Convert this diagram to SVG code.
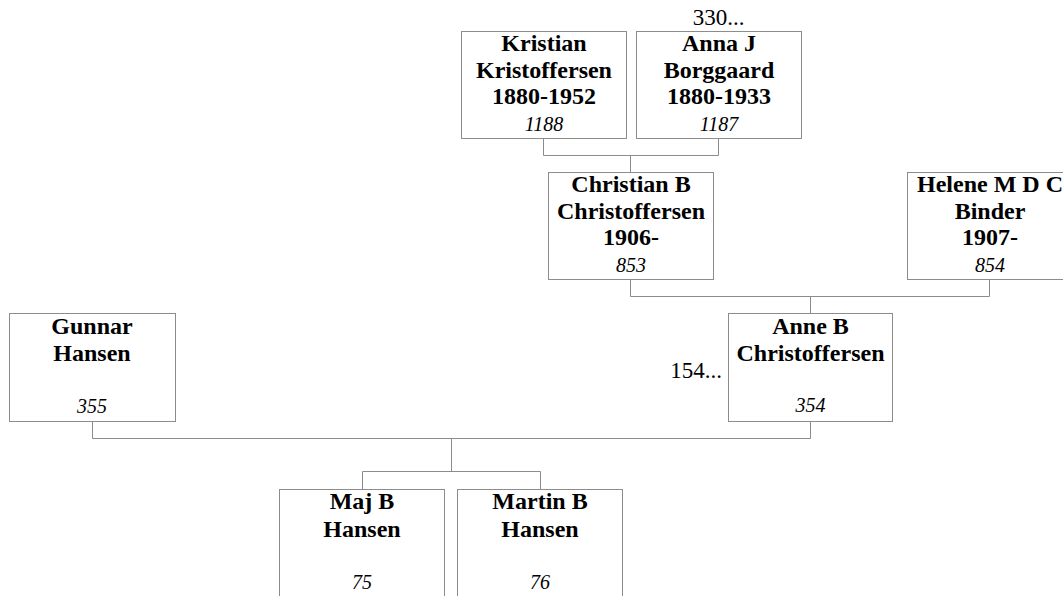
<svg xmlns="http://www.w3.org/2000/svg" width="1063" height="596" viewBox="0 0 1063 596">
<style>
.box{fill:#fff;stroke:#8c8c8c;stroke-width:1}
.n{font-family:"Liberation Serif","Times New Roman",serif;font-weight:bold;font-size:24px;text-anchor:middle;fill:#000}
.id{font-family:"Liberation Serif","Times New Roman",serif;font-style:italic;font-size:20px;text-anchor:middle;fill:#000}
.x{font-family:"Liberation Serif","Times New Roman",serif;font-size:23px;fill:#000}
.c{fill:none;stroke:#8c8c8c;stroke-width:1}
</style>
<rect width="1063" height="596" fill="#fff"/>
<g id="connectors">
<path class="c" d="M543.5 139 V155.5 H718.5 V139"/>
<path class="c" d="M630.5 155.5 V172"/>
<path class="c" d="M630.5 280 V296.5 H989.5 V280"/>
<path class="c" d="M810.5 296.5 V313"/>
<path class="c" d="M92.5 421 V438.5 H810.5 V421"/>
<path class="c" d="M451.5 438.5 V471.5"/>
<path class="c" d="M362.5 489 V471.5 H540.5 V489"/>
</g>
<g id="kristian">
<rect class="box" x="461.5" y="31.5" width="165" height="107"/>
<text class="n" x="544" y="51">Kristian</text>
<text class="n" x="544" y="77.5">Kristoffersen</text>
<text class="n" x="544" y="104">1880-1952</text>
<text class="id" x="544" y="131">1188</text>
</g>
<g id="anna">
<text class="x" x="718.5" y="25" text-anchor="middle">330...</text>
<rect class="box" x="636.5" y="31.5" width="165" height="107"/>
<text class="n" x="719" y="51">Anna J</text>
<text class="n" x="719" y="77.5">Borggaard</text>
<text class="n" x="719" y="104">1880-1933</text>
<text class="id" x="719" y="131">1187</text>
</g>
<g id="christian">
<rect class="box" x="548.5" y="172.5" width="165" height="107"/>
<text class="n" x="631" y="192">Christian B</text>
<text class="n" x="631" y="218.5">Christoffersen</text>
<text class="n" x="631" y="245">1906-</text>
<text class="id" x="631" y="272">853</text>
</g>
<g id="helene">
<rect class="box" x="907.5" y="172.5" width="165" height="107"/>
<text class="n" x="990" y="192">Helene M D C</text>
<text class="n" x="990" y="218.5">Binder</text>
<text class="n" x="990" y="245">1907-</text>
<text class="id" x="990" y="272">854</text>
</g>
<g id="gunnar">
<rect class="box" x="9.5" y="313.5" width="166" height="108"/>
<text class="n" x="92" y="334">Gunnar</text>
<text class="n" x="92" y="361">Hansen</text>
<text class="id" x="92" y="413">355</text>
</g>
<g id="anne">
<text class="x" x="722" y="378" text-anchor="end">154...</text>
<rect class="box" x="728.5" y="313.5" width="164" height="108"/>
<text class="n" x="810.5" y="334">Anne B</text>
<text class="n" x="810.5" y="361">Christoffersen</text>
<text class="id" x="810.5" y="412">354</text>
</g>
<g id="maj">
<rect class="box" x="279.5" y="489.5" width="165" height="108"/>
<text class="n" x="362" y="509">Maj B</text>
<text class="n" x="362" y="536.5">Hansen</text>
<text class="id" x="362" y="589">75</text>
</g>
<g id="martin">
<rect class="box" x="457.5" y="489.5" width="165" height="108"/>
<text class="n" x="540" y="509">Martin B</text>
<text class="n" x="540" y="536.5">Hansen</text>
<text class="id" x="540" y="589">76</text>
</g>
</svg>
